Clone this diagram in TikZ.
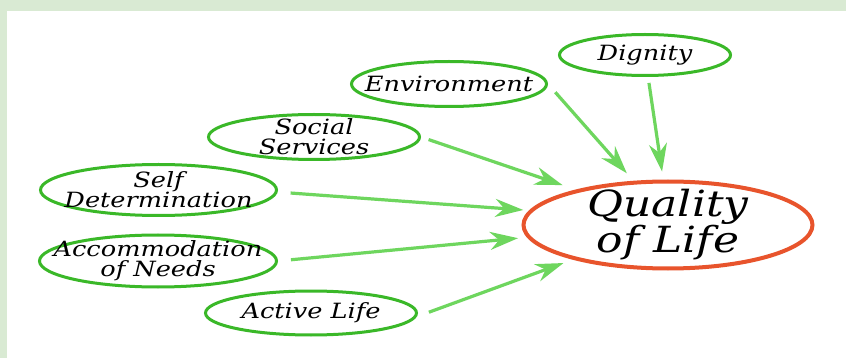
\documentclass[tikz,border=0pt]{standalone}
\usepackage{fontspec}
\newfontfamily\handfont[FakeStretch=1.22]{DejaVu Serif}
\usetikzlibrary{shapes.geometric, arrows.meta}
\definecolor{framegreen}{RGB}{217,234,211}
\definecolor{ringgreen}{RGB}{58,184,40}
\definecolor{arrowgreen}{RGB}{110,214,94}
\definecolor{ringorange}{RGB}{232,84,44}
\tikzstyle{factor} = [ellipse, draw=ringgreen, line width=3pt, inner sep=0pt]
\tikzstyle{factortext} = [align=center, inner sep=0pt, font=\handfont\itshape\fontsize{21}{20}\selectfont]
\tikzstyle{goal} = [ellipse, draw=ringorange, line width=4pt, inner sep=0pt, minimum width=289pt, minimum height=87pt]
\tikzstyle{goaltext} = [align=center, inner sep=0pt, font=\handfont\itshape\fontsize{36}{36}\selectfont]
\tikzstyle{arrow} = [arrowgreen, line width=3.2pt, -{Stealth[length=28pt,width=18pt,inset=9pt]}]

\begin{document}
\begin{tikzpicture}[x=1pt, y=-1pt]
\useasboundingbox (0,0) rectangle (846,358);
\fill[white] (0,0) rectangle (846,358);
\fill[framegreen] (0,0) rectangle (846,11);
\fill[framegreen] (0,0) rectangle (7,358);
\node (dignity) [factor, minimum width=171pt, minimum height=41pt, label={[factortext]center:Dignity}] at (645,55) {};
\node (environment) [factor, minimum width=195pt, minimum height=45pt, label={[factortext]center:Environment}] at (449,84) {};
\node (social) [factor, minimum width=211pt, minimum height=45pt, label={[factortext]center:{Social\\Services}}] at (314,137) {};
\node (selfdet) [factor, minimum width=236pt, minimum height=51pt, label={[factortext]center:{Self\\Determination}}] at (158.5,190) {};
\node (needs) [factor, minimum width=237pt, minimum height=52pt, label={[factortext]center:{Accommodation\\of Needs}}] at (158,261) {};
\node (active) [factor, minimum width=211pt, minimum height=44pt, label={[factortext]center:Active Life}] at (311,313) {};
\node (quality) [goal, label={[goaltext]center:{Quality\\of Life}}] at (668,225) {};
\draw [arrow, shorten <=6pt, shorten >=8pt] (dignity.-82) -- (quality.96);
\draw [arrow, shorten <=11pt, shorten >=10pt] (environment.east) -- (quality.128);
\draw [arrow, shorten <=8pt, shorten >=14pt] (social.east) -- (quality.159);
\draw [arrow, shorten <=13pt, shorten >=6pt] (selfdet.-1) -- (quality.174);
\draw [arrow, shorten <=13pt, shorten >=9pt] (needs.east) -- (quality.-175);
\draw [arrow, shorten <=13pt, shorten >=10pt] (active.-2) -- (quality.-160);
\end{tikzpicture}
\end{document}
